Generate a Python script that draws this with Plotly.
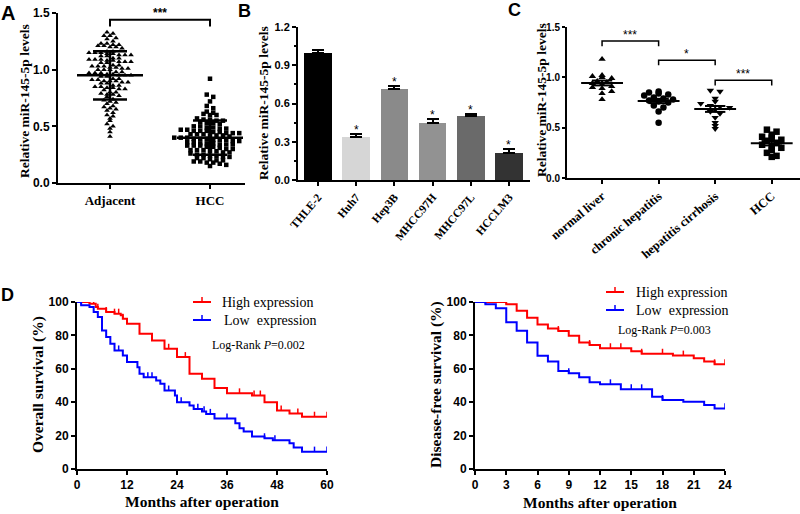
import numpy as np
import plotly.graph_objects as go

# ---------------- Panel A data ----------------
adjacent_vals = [
    1.33, 1.32, 1.30, 1.30, 1.28, 1.27, 1.25,
    1.23, 1.23, 1.22, 1.22, 1.21, 1.21, 1.20, 1.20, 1.19,
    1.16, 1.16, 1.15, 1.15, 1.15, 1.14, 1.14, 1.13, 1.13, 1.13, 1.12, 1.12,
    1.10, 1.10, 1.09, 1.09, 1.09, 1.08, 1.08, 1.07, 1.07, 1.07, 1.06, 1.06,
    1.04, 1.04, 1.03, 1.03, 1.03, 1.02, 1.02, 1.01, 1.01, 1.00, 1.00, 1.00,
    0.98, 0.98, 0.97, 0.97, 0.97, 0.96, 0.96, 0.95, 0.95, 0.95, 0.94, 0.94,
    0.92, 0.92, 0.91, 0.91, 0.90, 0.90, 0.90, 0.89, 0.89, 0.88, 0.88,
    0.86, 0.86, 0.85, 0.85, 0.84, 0.84, 0.83, 0.83, 0.82,
    0.80, 0.80, 0.79, 0.78, 0.78, 0.77, 0.76,
    0.74, 0.73, 0.72, 0.71, 0.70,
    0.68, 0.67, 0.66, 0.65, 0.64,
    0.62, 0.60, 0.59, 0.57,
    0.55, 0.52, 0.50, 0.48, 0.45, 0.41,
]
hcc_vals = [
    0.92, 0.78, 0.76, 0.72, 0.68, 0.66,
    0.63, 0.62, 0.61, 0.60, 0.60,
    0.57, 0.56, 0.56, 0.55, 0.55, 0.54, 0.53, 0.53, 0.52,
    0.50, 0.50, 0.49, 0.49, 0.48, 0.48, 0.47, 0.47, 0.46, 0.46, 0.46,
    0.45, 0.45, 0.44, 0.44, 0.44, 0.43, 0.43, 0.43, 0.42, 0.42, 0.42, 0.41,
    0.40, 0.40, 0.40, 0.39, 0.39, 0.39, 0.38, 0.38, 0.38, 0.37, 0.37, 0.37, 0.36, 0.36,
    0.35, 0.35, 0.35, 0.34, 0.34, 0.34, 0.33, 0.33, 0.33, 0.32, 0.32, 0.31,
    0.30, 0.30, 0.29, 0.29, 0.29, 0.28, 0.28, 0.27, 0.27, 0.26,
    0.25, 0.25, 0.24, 0.24, 0.23, 0.23, 0.22, 0.22, 0.21,
    0.20, 0.20, 0.19, 0.19, 0.18, 0.18, 0.17, 0.16, 0.15,
]
a_groups = ["Adjacent", "HCC"]

# ---------------- Panel B data ----------------
cell_lines = ["THLE-2", "Huh7", "Hep3B", "MHCC97H", "MHCC97L", "HCCLM3"]
cell_means = [1.00, 0.34, 0.71, 0.45, 0.50, 0.21]
cell_err = [0.02, 0.02, 0.03, 0.03, 0.02, 0.03]
cell_sig = ["", "*", "*", "*", "*", "*"]
cell_colors = ["#000000", "#d6d6d6", "#8a8a8a", "#929292", "#6a6a6a", "#333333"]

# ---------------- Panel C data ----------------
c_groups = ["normal liver", "chronic hepatitis", "hepatitis cirrhosis", "HCC"]
normal_vals = [1.18, 1.02, 1.01, 1.00, 0.99, 0.96, 0.95, 0.94, 0.93, 0.91, 0.90, 0.89, 0.86, 0.84, 0.78]
chronic_vals = [0.86, 0.85, 0.84, 0.83, 0.82, 0.80, 0.79, 0.78, 0.77, 0.76, 0.75, 0.72, 0.70, 0.66, 0.55]
cirrhosis_vals = [0.87, 0.86, 0.79, 0.76, 0.74, 0.72, 0.71, 0.70, 0.68, 0.66, 0.64, 0.60, 0.55, 0.52, 0.49]
c_hcc_vals = [0.48, 0.46, 0.43, 0.41, 0.40, 0.38, 0.37, 0.35, 0.33, 0.31, 0.30, 0.28, 0.25, 0.22, 0.21]
c_symbols = ["triangle-up", "circle", "triangle-down", "square"]

# ---------------- Panel D data ----------------
os_high_t = [0, 3, 4.5, 5, 7, 9, 10.5, 11, 12, 15, 18, 21, 24, 27, 30, 33, 36, 42, 45, 48, 51, 54, 60]
os_high_s = [100, 99, 97, 96, 94, 93, 92, 90, 87, 81, 77, 72, 67, 57, 54, 48.5, 45.3, 44, 40, 35, 33.3, 31.3, 31.3]
os_high_cens = [3, 4, 5, 7, 9, 10, 11, 22, 26, 39, 42.5, 44, 49, 53, 57, 60]
os_low_t = [0, 1, 3, 4, 5, 6, 7, 8, 9, 11, 12, 14.5, 15, 16, 19, 20, 21, 23.5, 24, 27, 28, 30,
            31, 33, 38, 39, 40, 42, 45, 47, 51, 52, 54, 60]
os_low_s = [100, 98, 97, 94, 91, 83, 79, 75, 71, 68, 64, 61, 57, 55, 53, 51, 47, 44, 40, 38, 36, 34.5,
            33, 30.3, 27.4, 24.4, 22.4, 19.4, 18.4, 17.2, 15.4, 12.8, 10.4, 10.4]
os_low_cens = [1, 10, 17, 18, 22, 25, 29, 30.5, 32, 36, 45, 47.5, 57, 60]

dfs_high_t = [0, 3, 4, 5, 6, 7, 8, 9, 10, 11, 12, 15, 16, 19, 21, 22, 23, 24]
dfs_high_s = [100, 98.6, 94.8, 90.6, 86.6, 84.2, 82.6, 79.8, 75.8, 74.2, 72.3, 70.5, 69, 67.9, 66.3, 64.3, 62.7, 62.7]
dfs_high_cens = [3, 8, 11, 13, 14, 16, 18, 20, 23, 24]
dfs_low_t = [0, 1, 2, 3, 4, 5, 6, 7, 8, 9, 10, 11, 12, 14, 17, 18, 20, 22, 23, 24]
dfs_low_s = [100, 98.6, 96.2, 87.8, 82.8, 75.8, 67.8, 64.3, 58.7, 57.3, 54.9, 51.9, 50.7, 47.7, 43.3, 41.3, 40.3, 38.3, 36.3, 36.3]
dfs_low_cens = [1, 9, 13, 15, 16, 18, 24]

RED = "#ff0000"
BLUE = "#0000ff"
SERIF = "Liberation Serif"
SANS = "Liberation Sans"


def px(x):
    return x / 800.0


def py(y):
    return 1 - y / 514.0


def swarm(vals, center, binw, step):
    v = np.asarray(vals, dtype=float)
    bins = np.round(v / binw).astype(int)
    xs = np.zeros(len(v))
    for b in np.unique(bins):
        idx = np.where(bins == b)[0]
        n = len(idx)
        xs[idx] = center + (np.arange(n) - (n - 1) / 2.0) * step
    return xs


def stat_lines(center, m, lo, hi, half_mean, half_cap):
    xs = [center - half_mean, center + half_mean, None,
          center - half_cap, center + half_cap, None,
          center - half_cap, center + half_cap, None,
          center, center]
    ys = [m, m, None, hi, hi, None, lo, lo, None, lo, hi]
    return xs, ys


def surv_at(times, surv, t):
    idx = 0
    for i, tt in enumerate(times):
        if tt <= t:
            idx = i
    return surv[idx]


def cens_segments(times, surv, cens, h=3.0):
    xs, ys = [], []
    for t in cens:
        s = surv_at(times, surv, t)
        xs += [t, t, None]
        ys += [s, s + h, None]
    return xs, ys


fig = go.Figure()

# ---------- Panel A ----------
for i, (vals, sym, size, bw, st) in enumerate([(adjacent_vals, "triangle-up", 5, 0.03, 0.06),
                                              (hcc_vals, "square", 4.5, 0.035, 0.065)]):
    fig.add_trace(go.Scatter(
        x=swarm(vals, i, bw, st), y=vals, mode="markers",
        marker=dict(symbol=sym, size=size, color="black", line=dict(width=0)),
        xaxis="x", yaxis="y", showlegend=False, cliponaxis=False))
    m = float(np.mean(vals))
    sd = float(np.std(vals, ddof=1))
    xs, ys = stat_lines(i, m, m - sd, m + sd, 0.33, 0.17)
    fig.add_trace(go.Scatter(x=xs, y=ys, mode="lines", line=dict(color="black", width=2.5),
                             xaxis="x", yaxis="y", showlegend=False, cliponaxis=False))
fig.add_trace(go.Scatter(x=[0, 0, 1, 1], y=[1.38, 1.44, 1.44, 1.38], mode="lines",
                         line=dict(color="black", width=2), xaxis="x", yaxis="y",
                         showlegend=False, cliponaxis=False))

# ---------- Panel B ----------
fig.add_trace(go.Bar(
    x=list(range(len(cell_lines))), y=cell_means, width=0.72,
    marker=dict(color=cell_colors, line=dict(width=0)),
    error_y=dict(type="data", symmetric=False, array=cell_err, arrayminus=[0] * len(cell_err),
                 color="black", thickness=2, width=6),
    xaxis="x2", yaxis="y2", showlegend=False))

# ---------- Panel C ----------
for i, (vals, sym) in enumerate(zip([normal_vals, chronic_vals, cirrhosis_vals, c_hcc_vals], c_symbols)):
    fig.add_trace(go.Scatter(
        x=swarm(vals, i, 0.04, 0.17), y=vals, mode="markers",
        marker=dict(symbol=sym, size=6.5, color="black", line=dict(width=0)),
        xaxis="x3", yaxis="y3", showlegend=False, cliponaxis=False))
    m = float(np.mean(vals))
    sem = float(np.std(vals, ddof=1) / np.sqrt(len(vals)))
    xs, ys = stat_lines(i, m, m - sem, m + sem, 0.37, 0.18)
    fig.add_trace(go.Scatter(x=xs, y=ys, mode="lines", line=dict(color="black", width=2),
                             xaxis="x3", yaxis="y3", showlegend=False, cliponaxis=False))
for (a, b, yv) in [(0, 1, 1.36), (1, 2, 1.17), (2, 3, 0.97)]:
    fig.add_trace(go.Scatter(x=[a, a, b, b], y=[yv - 0.05, yv, yv, yv - 0.05], mode="lines",
                             line=dict(color="black", width=1.5), xaxis="x3", yaxis="y3",
                             showlegend=False, cliponaxis=False))

# ---------- Panel D ----------
for (xa, ya, t, s, c, col) in [
    ("x4", "y4", os_high_t, os_high_s, os_high_cens, RED),
    ("x4", "y4", os_low_t, os_low_s, os_low_cens, BLUE),
    ("x5", "y5", dfs_high_t, dfs_high_s, dfs_high_cens, RED),
    ("x5", "y5", dfs_low_t, dfs_low_s, dfs_low_cens, BLUE),
]:
    fig.add_trace(go.Scatter(x=t, y=s, mode="lines", line=dict(color=col, width=2, shape="hv"),
                             xaxis=xa, yaxis=ya, showlegend=False, cliponaxis=False))
    cx, cy = cens_segments(t, s, c)
    fig.add_trace(go.Scatter(x=cx, y=cy, mode="lines", line=dict(color=col, width=1.5),
                             xaxis=xa, yaxis=ya, showlegend=False, cliponaxis=False))

# ---------- axes ----------
base = dict(showline=True, linecolor="black", linewidth=2, ticks="outside", ticklen=4,
            tickwidth=2, tickcolor="black", showgrid=False, zeroline=False, automargin=False)
tick_sans = dict(family=SANS, size=12, color="black", weight="bold")
tick_serif = dict(family=SERIF, size=13, color="black", weight="bold")

fig.update_layout(
    width=800, height=514, margin=dict(l=0, r=0, t=0, b=0, autoexpand=False),
    paper_bgcolor="white", plot_bgcolor="white",
    font=dict(family=SANS, color="black"),
    bargap=0,
    xaxis=dict(base, domain=[px(58), px(245)], anchor="y", range=[-0.52, 1.35],
               tickvals=[0, 1], ticktext=a_groups, tickfont=tick_serif),
    yaxis=dict(base, domain=[py(183), py(13)], anchor="x", range=[0, 1.5],
               tickvals=[0, 0.5, 1.0, 1.5], tickformat=".1f", tickfont=tick_sans),
    xaxis2=dict(base, domain=[px(298), px(530)], anchor="y2", range=[-0.52, 5.55],
                tickvals=list(range(len(cell_lines))), ticktext=cell_lines, tickangle=-50,
                tickfont=dict(family=SERIF, size=11.5, color="black", weight="bold")),
    yaxis2=dict(base, domain=[py(180), py(27)], anchor="x2", range=[0, 1.2],
                tickvals=[0, 0.3, 0.6, 0.9, 1.2], tickformat=".1f",
                tickfont=dict(family=SANS, size=11, color="black", weight="bold"),
                minor=dict(ticks="outside", ticklen=2.5, tickwidth=1.5, tickcolor="black",
                           dtick=0.15, showgrid=False)),
    xaxis3=dict(base, domain=[px(567), px(800)], anchor="y3", range=[-0.62, 3.5],
                tickvals=list(range(len(c_groups))), ticktext=c_groups, tickangle=-40,
                tickfont=dict(family=SERIF, size=12.5, color="black", weight="bold")),
    yaxis3=dict(base, domain=[py(178), py(27)], anchor="x3", range=[0, 1.5],
                tickvals=[0, 0.5, 1.0, 1.5], tickformat=".1f", ticklen=3,
                tickfont=dict(family=SANS, size=10, color="black", weight="bold")),
    xaxis4=dict(base, domain=[px(77), px(327)], anchor="y4", range=[0, 60],
                tickvals=[0, 12, 24, 36, 48, 60], tickfont=tick_sans),
    yaxis4=dict(base, domain=[py(469), py(302)], anchor="x4", range=[0, 100],
                tickvals=[0, 20, 40, 60, 80, 100], tickfont=tick_sans),
    xaxis5=dict(base, domain=[px(475), px(725)], anchor="y5", range=[0, 24],
                tickvals=[0, 3, 6, 9, 12, 15, 18, 21, 24], tickfont=tick_sans),
    yaxis5=dict(base, domain=[py(469), py(302)], anchor="x5", range=[0, 100],
                tickvals=[0, 20, 40, 60, 80, 100], tickfont=tick_sans),
)

ann = []


def paper_text(text, x, y, size, family=SERIF, bold=True, angle=0, xanchor="center", yanchor="middle"):
    ann.append(dict(text=text, x=px(x), y=py(y), xref="paper", yref="paper", showarrow=False,
                    textangle=angle, xanchor=xanchor, yanchor=yanchor,
                    font=dict(family=family, size=size, color="black",
                              weight="bold" if bold else "normal")))


# panel letters
paper_text("A", 8, 13, 20, family=SANS)
paper_text("B", 244, 11, 18, family=SANS)
paper_text("C", 514, 10, 18, family=SANS)
paper_text("D", 7, 295, 18, family=SANS)

# y titles
paper_text("Relative miR-145-5p levels", 25, 101, 13.5, angle=-90)
paper_text("Relative miR-145-5p levels", 264, 103, 13.5, angle=-90)
paper_text("Relative miR-145-5p levels", 542, 100, 13.5, angle=-90)
paper_text("Overall survival (%)", 38, 385, 15.5, angle=-90)
paper_text("Disease-free survival (%)", 436, 385, 15.5, angle=-90)
# x titles
paper_text("Months after operation", 202, 501, 15.5)
paper_text("Months after operation", 600, 502, 15.5)

# significance stars
ann.append(dict(text="***", x=0.5, y=1.44, xref="x", yref="y", showarrow=False, yanchor="bottom",
                yshift=-2, font=dict(family=SANS, size=12, color="black", weight="bold")))
for i, (m, e, s) in enumerate(zip(cell_means, cell_err, cell_sig)):
    if s:
        ann.append(dict(text=s, x=i, y=m + e, xref="x2", yref="y2", showarrow=False, yanchor="bottom",
                        yshift=-5, font=dict(family=SANS, size=12, color="black")))
for (xc, yv, s) in [(0.5, 1.36, "***"), (1.5, 1.17, "*"), (2.5, 0.97, "***")]:
    ann.append(dict(text=s, x=xc, y=yv, xref="x3", yref="y3", showarrow=False, yanchor="bottom",
                    yshift=-3, font=dict(family=SANS, size=12, color="black")))

# D legends (manual)
shapes = []


def legend_item(x0, x1, y, color, label, tx):
    shapes.append(dict(type="line", xref="paper", yref="paper", x0=px(x0), x1=px(x1), y0=py(y), y1=py(y),
                       line=dict(color=color, width=2)))
    xm = (x0 + x1) / 2
    shapes.append(dict(type="line", xref="paper", yref="paper", x0=px(xm), x1=px(xm), y0=py(y), y1=py(y - 5),
                       line=dict(color=color, width=1.5)))
    paper_text(label, tx, y, 14, bold=False, xanchor="left")


legend_item(193, 211, 302, RED, "High expression", 220)
legend_item(193, 211, 320, BLUE, "Low\u00a0 expression", 222)
paper_text("Log-Rank <i>P</i>=0.002", 210, 345, 12, bold=False, xanchor="left")
legend_item(606, 624, 292, RED, "High expression", 634)
legend_item(606, 624, 310, BLUE, "Low\u00a0 expression", 634)
paper_text("Log-Rank <i>P</i>=0.003", 616, 330, 12, bold=False, xanchor="left")

fig.update_layout(annotations=ann, shapes=shapes)
fig.write_html("out.html", config={"displayModeBar": False},
               post_script="document.body.style.margin='0';document.body.style.padding='0';")
